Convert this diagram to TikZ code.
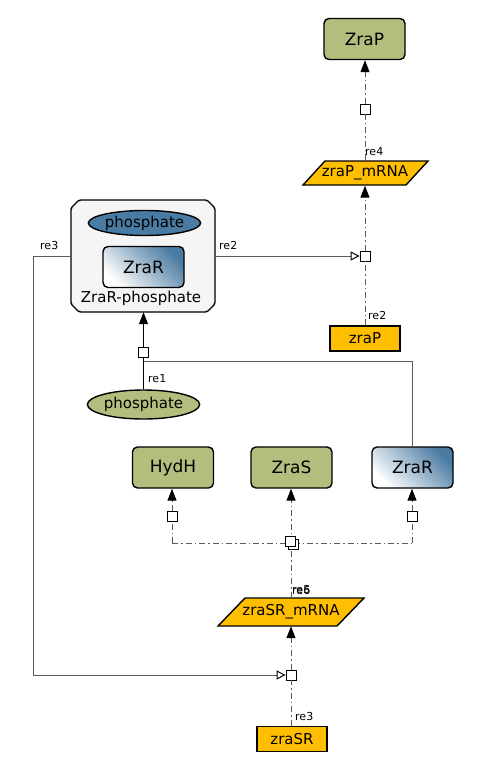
\documentclass[tikz,border=0pt]{standalone}
\usepackage{fontspec}
\setmainfont{DejaVu Sans}
\usetikzlibrary{arrows.meta,shapes.geometric,backgrounds}
\definecolor{spgreen}{HTML}{B5BD7E}
\definecolor{rnaorange}{HTML}{FFBF00}
\definecolor{steel}{HTML}{4A7BA2}
\definecolor{linegray}{HTML}{5A5A5A}
\tikzset{
  prot/.style={draw=black, line width=1.4pt, rounded corners=5pt, minimum width=81pt, minimum height=41pt, inner sep=0pt, font=\fontsize{17}{20}\selectfont},
  greenprot/.style={prot, fill=spgreen},
  blueprot/.style={prot, left color=white, right color=steel, shading angle=135},
  gene/.style={draw=black, line width=1.4pt, fill=rnaorange, minimum width=70pt, minimum height=25pt, inner sep=0pt, font=\fontsize{15}{18}\selectfont},
  rnatext/.style={inner sep=0pt, minimum width=100pt, minimum height=25pt, font=\fontsize{15}{18}\selectfont},
  rnashape/.style={draw=black, line width=1.4pt, fill=rnaorange},
  procsq/.style={draw=black, fill=white, line width=0.8pt, minimum size=10pt, inner sep=0pt},
  dashdot/.style={draw=linegray, line width=1pt, dash pattern=on 6pt off 3pt on 1.5pt off 3pt},
  solidln/.style={draw=linegray, line width=1pt},
  filltip/.style={-{Triangle[length=12pt,width=9pt,color=black,fill=black]}},
  opentip/.style={-{Triangle[open,length=9pt,width=9pt,fill=white,color=black]}},
  relabel/.style={font=\fontsize{11}{13}\selectfont, inner sep=0pt, anchor=west},
}
\begin{document}
\begin{tikzpicture}[x=1pt,y=-1pt]
\useasboundingbox (0,0) rectangle (480,780);

% species
\node[greenprot] (ZraP) at (364.5,39) {ZraP};
\node[greenprot] (HydH) at (173,467.5) {HydH};
\node[greenprot] (ZraS) at (291.5,467.5) {ZraS};
\node[blueprot] (ZraR) at (412.5,467.5) {ZraR};
\node[gene] (zraP) at (365,338.5) {zraP};
\node[gene] (zraSR) at (292,739) {zraSR};
\node[draw=black, line width=1.4pt, fill=spgreen, ellipse, minimum width=107pt, minimum height=29pt, inner sep=0pt, font=\fontsize{15}{18}\selectfont] (pho) at (143.5,404.5) {phosphate};

% mRNA parallelograms
\node[rnatext] (mP) at (365,173) {zraP\_mRNA};
\node[rnatext, minimum height=28pt] (mSR) at (291,612) {zraSR\_mRNA};
\begin{scope}[on background layer]
\path[rnashape] (325,161) -- (428,161) -- (406,185) -- (303,185) -- cycle;
\path[rnashape] (245,598) -- (364,598) -- (337,626) -- (218,626) -- cycle;
\end{scope}

% complex
\node[inner sep=0pt, minimum width=144pt, minimum height=112pt] (cx) at (143,256) {};
\begin{scope}[on background layer]
\draw[draw=black, line width=1.4pt, fill=black!4, rounded corners=1.5pt]
  (79,200) -- (207,200) -- (215,208) -- (215,304) -- (207,312) -- (79,312) -- (71,304) -- (71,208) -- cycle;
\end{scope}
\node[draw=black, line width=1.4pt, fill=steel, ellipse, minimum width=103pt, minimum height=25pt, inner sep=0pt, font=\fontsize{15}{18}\selectfont] (cxpho) at (144.5,223) {phosphate};
\node[blueprot] (cxZraR) at (143.5,267) {ZraR};
\node[font=\fontsize{15}{18}\selectfont, inner sep=0pt] (cxlab) at (141,298) {ZraR-phosphate};

% process squares
\node[procsq] (s4) at (365,109) {};
\node[procsq] (s2) at (365,256) {};
\node[procsq] (s1) at (143.5,352) {};
\node[procsq] (sH) at (172,516) {};
\node[procsq] (sR) at (412,516) {};
\node[procsq] (s56b) at (293,544) {};
\node[procsq] (s56) at (290,541) {};
\node[procsq] (s3) at (291,675) {};
\coordinate (cH) at (172,543);
\coordinate (cR) at (412,543);
\coordinate (c56) at (291,543);

% re4
\draw[dashdot] (mP.north -| s4) -- (s4);
\draw[dashdot, filltip] (s4) -- (s4 |- ZraP.south);

% re2
\draw[dashdot] (zraP.north) -- (s2);
\draw[dashdot, filltip] (s2) -- (s2 |- mP.south);
\draw[solidln, opentip] (cx.east |- s2) -- (s2.west);

% re1
\draw[black, line width=1pt] (pho.north) -- (s1);
\draw[black, line width=1pt, filltip] (s1) -- (s1 |- cx.south);
\draw[solidln] (ZraR.north) -- (ZraR.north |- 0,361) -- (s1.center |- 0,361);

% re5 / re6
\draw[dashdot] (mSR.north -| c56) -- (c56);
\draw[dashdot, filltip] (c56) -- (c56 |- ZraS.south);
\draw[dashdot] (cH) -- (cR);
\draw[dashdot] (cH) -- (sH);
\draw[dashdot] (cR) -- (sR);
\draw[dashdot, filltip] (sH) -- (sH |- HydH.south);
\draw[dashdot, filltip] (sR) -- (sR |- ZraR.south);
\node[procsq] at (s56b) {};
\node[procsq] at (s56) {};

% re3
\draw[dashdot] (zraSR.north -| s3) -- (s3);
\draw[dashdot, filltip] (s3) -- (s3 |- mSR.south);
\draw[solidln, opentip] (cx.west |- s2) -- (33,256) -- (33,675) -- (s3.west);

% labels
\node[relabel] (l4) at (365,152) {re4};
\node[relabel] (l2a) at (368,315) {re2};
\node[relabel] (l2b) at (219,245) {re2};
\node[relabel] (l3a) at (40,245) {re3};
\node[relabel] (l1) at (148,379) {re1};
\node[relabel] (l3b) at (295,716) {re3};
\node[relabel] (l5) at (292,590) {re5};
\node[relabel] (l6) at (292,590) {re6};
\end{tikzpicture}
\end{document}
